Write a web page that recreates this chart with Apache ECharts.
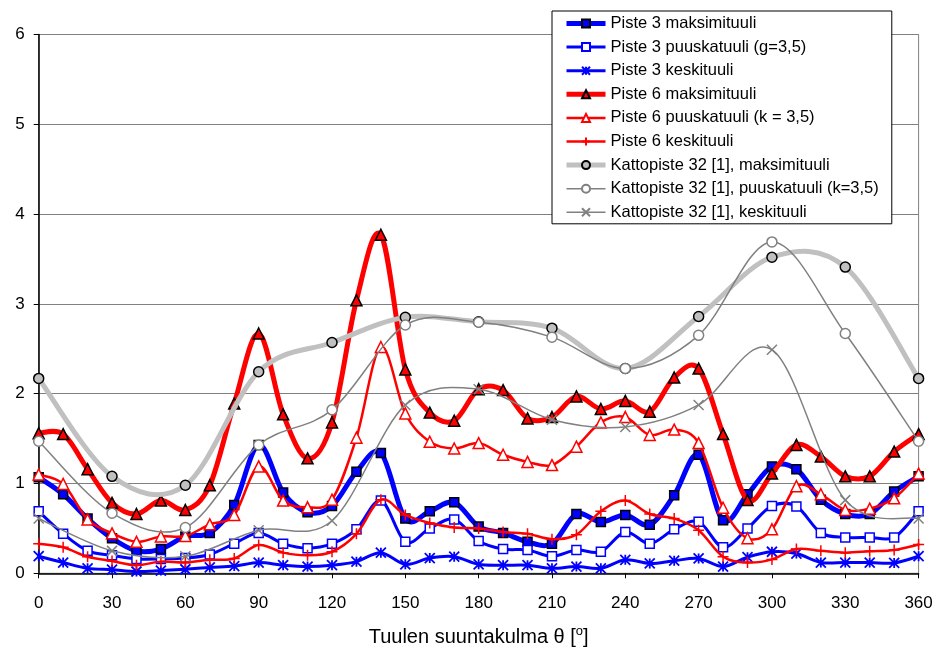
<!DOCTYPE html>
<html>
<head>
<meta charset="utf-8">
<script src="https://cdn.jsdelivr.net/npm/echarts@6/dist/echarts.min.js"></script>
<style>
  html, body { margin: 0; padding: 0; background: #fff; }
  #chart { width: 936px; height: 649px; }
</style>
</head>
<body>
<div id="chart"></div>
<script>
// Wind direction angles (degrees)
const angles10 = [0,10,20,30,40,50,60,70,80,90,100,110,120,130,140,150,160,170,180,
                  190,200,210,220,230,240,250,260,270,280,290,300,310,320,330,340,350,360];
const angles30 = [0,30,60,90,120,150,180,210,240,270,300,330,360];
const xTicks = [0,30,60,90,120,150,180,210,240,270,300,330,360];
const yTicks = [0,1,2,3,4,5,6];

// Piste 3
const p3Max  = [1.07,0.88,0.61,0.39,0.25,0.27,0.41,0.45,0.76,1.43,0.90,0.68,0.75,1.13,1.34,0.61,0.69,0.79,0.52,
                0.45,0.35,0.33,0.66,0.57,0.65,0.54,0.87,1.32,0.59,0.88,1.19,1.16,0.82,0.66,0.66,0.91,1.08];
const p3Gust = [0.69,0.44,0.25,0.20,0.16,0.16,0.17,0.21,0.33,0.45,0.33,0.28,0.33,0.49,0.81,0.35,0.50,0.60,0.36,
                0.27,0.26,0.19,0.26,0.24,0.46,0.33,0.49,0.575,0.29,0.50,0.75,0.745,0.45,0.40,0.40,0.40,0.69];
const p3Mean = [0.19,0.12,0.055,0.04,0.02,0.03,0.045,0.065,0.08,0.12,0.09,0.075,0.09,0.13,0.23,0.10,0.17,0.185,0.10,
                0.09,0.09,0.055,0.075,0.055,0.15,0.11,0.14,0.165,0.075,0.18,0.24,0.22,0.12,0.12,0.12,0.115,0.19];

// Piste 6
const p6Max  = [1.56,1.55,1.16,0.785,0.66,0.81,0.705,0.98,1.89,2.67,1.77,1.28,1.68,3.04,3.77,2.27,1.79,1.70,2.05,
                2.04,1.725,1.74,1.97,1.83,1.92,1.80,2.18,2.28,1.55,0.815,1.11,1.43,1.30,1.08,1.08,1.355,1.55];
const p6Gust = [1.10,0.995,0.60,0.445,0.35,0.41,0.415,0.545,0.65,1.19,0.81,0.735,0.82,1.51,2.52,1.78,1.465,1.39,1.45,
                1.32,1.24,1.205,1.41,1.68,1.74,1.54,1.60,1.45,0.73,0.39,0.49,0.97,0.88,0.705,0.72,0.835,1.11];
const p6Mean = [0.33,0.29,0.185,0.137,0.09,0.13,0.12,0.15,0.165,0.315,0.23,0.20,0.24,0.44,0.82,0.65,0.56,0.51,0.50,
                0.46,0.44,0.38,0.43,0.69,0.81,0.66,0.61,0.48,0.185,0.12,0.155,0.27,0.25,0.23,0.245,0.26,0.32];

// Kattopiste 32 [1]
const kMax  = [2.17,1.08,0.98,2.245,2.57,2.85,2.80,2.73,2.28,2.86,3.52,3.41,2.17];
const kGust = [1.47,0.67,0.51,1.43,1.82,2.765,2.795,2.63,2.28,2.65,3.69,2.67,1.47];
const kMean = [0.61,0.25,0.19,0.48,0.585,1.875,2.05,1.71,1.63,1.875,2.49,0.815,0.61];

const names = [
  'Piste 3 maksimituuli',
  'Piste 3 puuskatuuli (g=3,5)',
  'Piste 3 keskituuli',
  'Piste 6 maksimituuli',
  'Piste 6 puuskatuuli (k = 3,5)',
  'Piste 6 keskituuli',
  'Kattopiste 32 [1], maksimituuli',
  'Kattopiste 32 [1], puuskatuuli (k=3,5)',
  'Kattopiste 32 [1], keskituuli'
];

const pairs = (xs, ys) => xs.map((x, i) => [x, ys[i]]);

const SYM_STAR  = 'path://M0,0L10,10M10,0L0,10M5,0L5,10';
const SYM_PLUS  = 'path://M5,0L5,10M0,5L10,5';
const SYM_CROSS = 'path://M0,0L10,10M10,0L0,10';

// Cardinal (Catmull-Rom, 1/6) bezier through every point, in pixel space
function smoothCurveItem(color, width) {
  return function (params, api) {
    if (params.dataIndex !== 0) return null;
    const n = params.dataInsideLength;
    const pts = [];
    for (let j = 0; j < n; j++) {
      pts.push(api.coord([api.value(0, j), api.value(1, j)]));
    }
    let d = 'M' + pts[0][0] + ',' + pts[0][1];
    for (let j = 0; j < n - 1; j++) {
      const p0 = pts[Math.max(j - 1, 0)];
      const p1 = pts[j];
      const p2 = pts[j + 1];
      const p3 = pts[Math.min(j + 2, n - 1)];
      const c1x = p1[0] + (p2[0] - p0[0]) / 6;
      const c1y = p1[1] + (p2[1] - p0[1]) / 6;
      const c2x = p2[0] - (p3[0] - p1[0]) / 6;
      const c2y = p2[1] - (p3[1] - p1[1]) / 6;
      d += 'C' + c1x + ',' + c1y + ',' + c2x + ',' + c2y + ',' + p2[0] + ',' + p2[1];
    }
    return {
      type: 'path',
      shape: { pathData: d },
      style: { stroke: color, lineWidth: width, fill: 'none', lineJoin: 'round', lineCap: 'round' },
      silent: true
    };
  };
}

const specs = [
  { data: pairs(angles10, p3Max),  color: '#0000ff', width: 5,   symbol: 'rect',     size: 9,  fill: '#0000ff', border: '#000', bw: 1.5 },
  { data: pairs(angles10, p3Gust), color: '#0000ff', width: 3,   symbol: 'rect',     size: 9,  fill: '#ffffff', border: '#0000ff', bw: 1.5 },
  { data: pairs(angles10, p3Mean), color: '#0000ff', width: 3,   symbol: SYM_STAR,   size: 10, fill: 'transparent', border: '#0000ff', bw: 1.8 },
  { data: pairs(angles10, p6Max),  color: '#ff0000', width: 5,   symbol: 'triangle', size: 11, fill: '#ff0000', border: '#000', bw: 1.5 },
  { data: pairs(angles10, p6Gust), color: '#ff0000', width: 2.5, symbol: 'triangle', size: 11, fill: '#ffffff', border: '#ff0000', bw: 1.5 },
  { data: pairs(angles10, p6Mean), color: '#ff0000', width: 2.5, symbol: SYM_PLUS,   size: 11, fill: 'transparent', border: '#ff0000', bw: 1.5 },
  { data: pairs(angles30, kMax),   color: '#c0c0c0', width: 5,   symbol: 'circle',   size: 10, fill: '#c0c0c0', border: '#000', bw: 1.5 },
  { data: pairs(angles30, kGust),  color: '#808080', width: 1.5, symbol: 'circle',   size: 10, fill: '#ffffff', border: '#808080', bw: 1.5 },
  { data: pairs(angles30, kMean),  color: '#808080', width: 1.5, symbol: SYM_CROSS,  size: 10, fill: 'transparent', border: '#808080', bw: 1.5 }
];

const series = [];
specs.forEach((s, i) => {
  // smoothed curve
  series.push({
    id: 'curve' + i,
    type: 'custom',
    data: s.data,
    renderItem: smoothCurveItem(s.color, s.width),
    clip: false,
    z: 2 + i * 2,
    silent: true
  });
  // markers (line itself hidden, curve drawn above)
  series.push({
    name: names[i],
    type: 'line',
    data: s.data,
    symbol: s.symbol,
    symbolSize: s.size,
    showAllSymbol: true,
    lineStyle: { color: s.color, width: s.width, opacity: 0 },
    itemStyle: { color: s.fill, borderColor: s.border, borderWidth: s.bw },
    emphasis: { disabled: true },
    z: 3 + i * 2
  });
});

const legendData = specs.map((s, i) => ({
  name: names[i],
  lineStyle: { color: s.color, width: s.width, opacity: 1, type: 'solid' }
}));

const chart = echarts.init(document.getElementById('chart'), null, { renderer: 'canvas' });
const FONT = '"Liberation Sans", Arial, sans-serif';

chart.setOption({
  animation: false,
  backgroundColor: '#ffffff',
  textStyle: { fontFamily: FONT, color: '#000' },
  grid: {
    left: 38.7, right: 17.4, top: 34.5, bottom: 75.7,
    outerBoundsMode: 'none',
    containLabel: false,
    show: true, borderColor: '#808080', borderWidth: 1, backgroundColor: 'transparent'
  },
  legend: {
    data: legendData,
    orient: 'vertical',
    left: 552, top: 11,
    padding: [4, 13, 3, 12],
    itemGap: 6.6,
    itemWidth: 39,
    itemHeight: 10,
    backgroundColor: '#ffffff',
    borderColor: '#000000',
    borderWidth: 1,
    borderRadius: 0,
    textStyle: { fontFamily: FONT, fontSize: 16.5, color: '#000' },
    selectedMode: false,
    z: 50
  },
  xAxis: {
    type: 'value',
    min: xTicks[0], max: xTicks[xTicks.length - 1], interval: 30,
    axisLine: { show: true, onZero: false, lineStyle: { color: '#000', width: 1.5 } },
    axisTick: { show: true, inside: false, length: 5, lineStyle: { color: '#000' } },
    axisLabel: { fontFamily: FONT, fontSize: 17, color: '#000', margin: 22 },
    splitLine: { show: false },
    name: 'Tuulen suuntakulma θ [{sup|o}]',
    nameLocation: 'middle',
    nameGap: 52,
    nameTextStyle: {
      fontFamily: FONT, fontSize: 20, color: '#000',
      rich: { sup: { fontFamily: FONT, fontSize: 13, verticalAlign: 'top', padding: [0, 0, 12, 0], color: '#000' } }
    }
  },
  yAxis: {
    type: 'value',
    min: yTicks[0], max: yTicks[yTicks.length - 1], interval: 1,
    axisLine: { show: true, lineStyle: { color: '#000', width: 1.5 } },
    axisTick: { show: true, inside: false, length: 5, lineStyle: { color: '#000' } },
    axisLabel: { fontFamily: FONT, fontSize: 17, color: '#000', margin: 14 },
    splitLine: { show: true, lineStyle: { color: '#808080', width: 1.2 } }
  },
  series: series
});
</script>
</body>
</html>
